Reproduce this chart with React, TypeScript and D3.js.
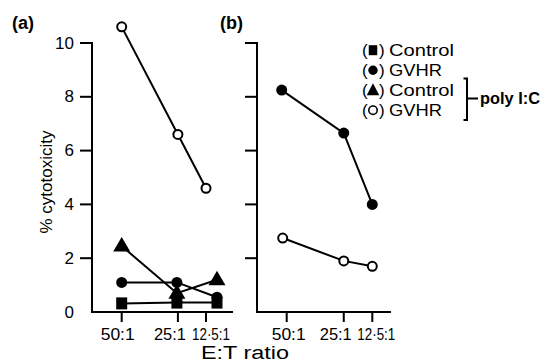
import React from 'react';
import * as d3 from 'd3';

// ---------- data ----------
const ratios = [50, 25, 12.5];
const ratioLabels = ['50:1', '25:1', '12·5:1'];
const yTickValues = [0, 2, 4, 6, 8, 10];

// panel (a)
const aControl = [0.32, 0.35, 0.35];
const aGVHR = [1.1, 1.1, 0.55];
const aPolyControl = [2.45, 0.7, 1.2];
const aPolyGVHR = [10.6, 6.6, 4.6];
// panel (b)
const bGVHR = [8.25, 6.65, 4.0];
const bPolyGVHR = [2.75, 1.9, 1.7];

const legendLabels = ['Control', 'GVHR', 'Control', 'GVHR'];
const legendShapes = ['square', 'circle', 'triangle', 'open'];

// ---------- layout / style ----------
const W = 552;
const H = 362;
const FONT = '"Liberation Sans", Arial, Helvetica, sans-serif';
const y = d3.scaleLinear().domain([0, 10]).range([312, 43]);
const ratioLabelWidths = [34, 32, 38];
const legendLabelWidths = [65, 53, 65, 53];

type Series = { values: number[]; shape: string; nudge: number[] };

const panels = [
  {
    letter: '(a)',
    letterX: 12,
    axisX: 92,
    axisEnd: 233,
    x: d3.scaleLinear().domain([50, 12.5]).range([121.7, 206]),
    yLabels: true,
    labelDx: [-4, -8, 5],
    series: [
      { values: aControl, shape: 'square', nudge: [0, -1, 11] },
      { values: aGVHR, shape: 'circle', nudge: [0, -1, 11] },
      { values: aPolyControl, shape: 'triangle', nudge: [0, -1, 11] },
      { values: aPolyGVHR, shape: 'open', nudge: [0, 0, 0] },
    ] as Series[],
  },
  {
    letter: '(b)',
    letterX: 220,
    axisX: 257,
    axisEnd: 391,
    x: d3.scaleLinear().domain([50, 12.5]).range([286.7, 372.3]),
    yLabels: false,
    labelDx: [2, -8, 4],
    series: [
      { values: bGVHR, shape: 'circle', nudge: [-5, 0, 0] },
      { values: bPolyGVHR, shape: 'open', nudge: [-4, 0, 0] },
    ] as Series[],
  },
];

function Marker({ shape, cx, cy, small }: { shape: string; cx: number; cy: number; small?: boolean }) {
  if (shape === 'square') {
    const w = small ? 8.5 : 11;
    const h = small ? 10 : 12;
    return <rect x={cx - w / 2} y={cy - h / 2} width={w} height={h} fill="#000" />;
  }
  if (shape === 'circle') {
    return <circle cx={cx} cy={cy} r={small ? 4.7 : 5.5} fill="#000" />;
  }
  if (shape === 'triangle') {
    const hw = small ? 6.3 : 8.5;
    const top = small ? 7 : 9;
    const bot = small ? 5 : 5.5;
    const p = d3.path();
    p.moveTo(cx, cy - top);
    p.lineTo(cx + hw, cy + bot);
    p.lineTo(cx - hw, cy + bot);
    p.closePath();
    return <path d={p.toString()} fill="#000" />;
  }
  return <circle cx={cx} cy={cy} r={small ? 4.2 : 4.5} fill="#fff" stroke="#000" strokeWidth={small ? 1.6 : 2} />;
}

export default function App() {
  const line = d3
    .line<[number, number]>()
    .x((d) => d[0])
    .y((d) => d[1]);

  return (
    <svg
      width={W}
      height={H}
      viewBox={`0 0 ${W} ${H}`}
      style={{ position: 'absolute', left: 0, top: 0, background: '#fff', fontFamily: FONT }}
    >
      <rect x={0} y={0} width={W} height={H} fill="#fff" />
      {panels.map((pn, pi) => (
        <g key={pi}>
          {/* panel letter */}
          <text x={pn.letterX} y={29} fontSize={18} fontWeight="bold" fill="#000">
            {pn.letter}
          </text>
          {/* y axis */}
          <line x1={pn.axisX} x2={pn.axisX} y1={y(10) - 1} y2={y(0) + 1} stroke="#000" strokeWidth={2} />
          {yTickValues
            .filter((v) => v > 0)
            .map((v) => (
              <line key={v} x1={pn.axisX - 12} x2={pn.axisX} y1={y(v)} y2={y(v)} stroke="#000" strokeWidth={2} />
            ))}
          {pn.yLabels &&
            yTickValues.map((v) => (
              <text
                key={'l' + v}
                x={74}
                y={y(v)}
                fontSize={17}
                textAnchor="end"
                dominantBaseline="central"
                fill="#000"
              >
                {v}
              </text>
            ))}
          {/* x axis */}
          <line x1={pn.axisX - 1} x2={pn.axisEnd} y1={y(0)} y2={y(0)} stroke="#000" strokeWidth={2} />
          {ratios.map((r, i) => (
            <g key={'x' + r}>
              <line x1={pn.x(r)} x2={pn.x(r)} y1={y(0)} y2={y(0) + 10} stroke="#000" strokeWidth={2} />
              <text
                x={pn.x(r) + pn.labelDx[i]}
                y={340}
                fontSize={17}
                textAnchor="middle"
                textLength={ratioLabelWidths[i]}
                lengthAdjust="spacingAndGlyphs"
                fill="#000"
              >
                {ratioLabels[i]}
              </text>
            </g>
          ))}
          {/* series lines */}
          {pn.series.map((s, si) => (
            <path
              key={'s' + si}
              d={line(s.values.map((v, i) => [pn.x(ratios[i]) + s.nudge[i], y(v)]) as [number, number][]) || ''}
              fill="none"
              stroke="#000"
              strokeWidth={2}
            />
          ))}
          {/* markers */}
          {pn.series.map((s, si) =>
            s.values.map((v, i) => (
              <Marker key={'m' + si + '-' + i} shape={s.shape} cx={pn.x(ratios[i]) + s.nudge[i]} cy={y(v)} />
            ))
          )}
        </g>
      ))}

      {/* y axis title */}
      <text
        transform={`translate(46,182) rotate(-90)`}
        fontSize={17}
        textAnchor="middle"
        dominantBaseline="central"
        fill="#000"
      >
        % cytotoxicity
      </text>
      {/* x axis title */}
      <text x={201} y={359} fontSize={18} textLength={88} lengthAdjust="spacingAndGlyphs" fill="#000">
        E:T ratio
      </text>

      {/* legend */}
      {legendLabels.map((lab, i) => {
        const by = 56 + i * 20;
        return (
          <g key={'lg' + i}>
            <text x={362} y={by} fontSize={17} fill="#000">(</text>
            <Marker shape={legendShapes[i]} cx={373} cy={by - 5.8} small />
            <text x={379} y={by} fontSize={17} fill="#000">)</text>
            <text x={389} y={by} fontSize={17} textLength={legendLabelWidths[i]} lengthAdjust="spacingAndGlyphs" fill="#000">
              {lab}
            </text>
          </g>
        );
      })}
      {/* bracket */}
      <path d="M463.5,78.5 H467 V120 H463.5 M467,98.5 H478" fill="none" stroke="#000" strokeWidth={2} />
      <text x={480} y={104} fontSize={17} fontWeight="bold" textLength={60} lengthAdjust="spacingAndGlyphs" fill="#000">
        poly I:C
      </text>
    </svg>
  );
}
